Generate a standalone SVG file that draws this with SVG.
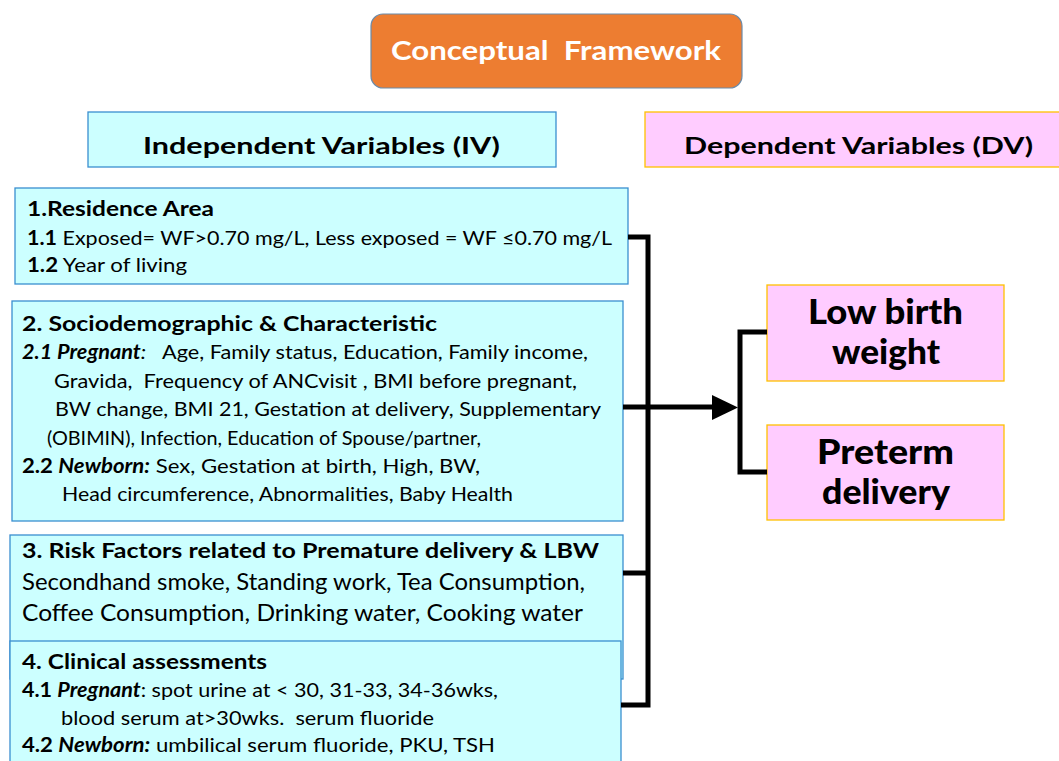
<svg xmlns="http://www.w3.org/2000/svg" width="1059" height="761" viewBox="0 0 1059 761">
  <defs>
    <style>
      .t { font-family: Lato, "Open Sans", "Liberation Sans", sans-serif; fill: #000; white-space: pre; }
      .b { font-weight: bold; }
      .i { font-style: italic; }
      .body { font-size: 20px; }
      .big { font-size: 23px; }
      .out { font-size: 34px; font-weight: 900; }
      .iv { fill: #CCFFFF; stroke: #3A8FD0; stroke-width: 1.3; }
      .dv { fill: #FFCCFF; stroke: #FFC000; stroke-width: 1.3; }
      .wire { fill: none; stroke: #000; stroke-width: 5; stroke-linejoin: miter; }
    </style>
  </defs>

  <rect width="1059" height="761" fill="#fff"/>

  <!-- Title -->
  <g id="title">
    <rect x="371" y="14" width="371" height="74" rx="12" fill="#ED7D31" stroke="#6A8BAA" stroke-width="1.2"/>
    <text class="t b" x="391" y="60" font-size="26" style="fill:#fff" textLength="330" lengthAdjust="spacingAndGlyphs">Conceptual  Framework</text>
  </g>

  <!-- Column headers -->
  <g id="iv-header">
    <rect class="iv" x="88" y="112" width="468" height="55"/>
    <text class="t b" x="143" y="154" font-size="22" textLength="357" lengthAdjust="spacingAndGlyphs">Independent Variables (IV)</text>
  </g>
  <g id="dv-header">
    <rect class="dv" x="645" y="112" width="420" height="55"/>
    <text class="t b" x="684" y="154" font-size="22" textLength="349" lengthAdjust="spacingAndGlyphs">Dependent Variables (DV)</text>
  </g>

  <!-- Independent variable groups -->
  <g id="iv-residence">
    <rect class="iv" x="15" y="188" width="613" height="96"/>
    <text class="t body b" x="27" y="216" textLength="187" lengthAdjust="spacingAndGlyphs">1.Residence Area</text>
    <text class="t body" x="27" y="245" textLength="585" lengthAdjust="spacingAndGlyphs"><tspan class="b">1.1</tspan> Exposed= WF&gt;0.70 mg/L, Less exposed = WF ≤0.70 mg/L</text>
    <text class="t body" x="27" y="272" textLength="160" lengthAdjust="spacingAndGlyphs"><tspan class="b">1.2</tspan> Year of living</text>
  </g>

  <g id="iv-sociodemographic">
    <rect class="iv" x="12" y="301" width="611" height="220"/>
    <text class="t body b" x="22" y="331" textLength="415" lengthAdjust="spacingAndGlyphs">2. Sociodemographic &amp; Characteristic</text>
    <text class="t body" x="22" y="359" textLength="566" lengthAdjust="spacingAndGlyphs"><tspan class="b i">2.1 Pregnant</tspan><tspan class="i">:</tspan>   Age, Family status, Education, Family income,</text>
    <text class="t body" x="54" y="388" textLength="523" lengthAdjust="spacingAndGlyphs">Gravida,  Frequency of ANCvisit , BMI before pregnant,</text>
    <text class="t body" x="55" y="416" textLength="546" lengthAdjust="spacingAndGlyphs">BW change, BMI 21, Gestation at delivery, Supplementary</text>
    <text class="t body" x="47" y="445" textLength="434" lengthAdjust="spacingAndGlyphs">(OBIMIN), Infection, Education of Spouse/partner,</text>
    <text class="t body" x="22" y="473" textLength="458" lengthAdjust="spacingAndGlyphs"><tspan class="b">2.2 </tspan><tspan class="b i">Newborn:</tspan> Sex, Gestation at birth, High, BW,</text>
    <text class="t body" x="62" y="501" textLength="451" lengthAdjust="spacingAndGlyphs">Head circumference, Abnormalities, Baby Health</text>
  </g>

  <g id="iv-risk-factors">
    <rect class="iv" x="10" y="535" width="613" height="144"/>
    <text class="t body b" x="22" y="558" textLength="577" lengthAdjust="spacingAndGlyphs">3. Risk Factors related to Premature delivery &amp; LBW</text>
    <text class="t big" x="22" y="590" textLength="563" lengthAdjust="spacingAndGlyphs">Secondhand smoke, Standing work, Tea Consumption,</text>
    <text class="t big" x="22" y="621" textLength="561" lengthAdjust="spacingAndGlyphs">Coffee Consumption, Drinking water, Cooking water</text>
  </g>

  <g id="iv-clinical">
    <rect class="iv" x="10" y="641" width="611" height="130"/>
    <text class="t body b" x="22" y="669" textLength="245" lengthAdjust="spacingAndGlyphs">4. Clinical assessments</text>
    <text class="t body" x="22" y="697" textLength="476" lengthAdjust="spacingAndGlyphs"><tspan class="b">4.1 </tspan><tspan class="b i">Pregnant</tspan>: spot urine at &lt; 30, 31-33, 34-36wks,</text>
    <text class="t body" x="61" y="725" textLength="373" lengthAdjust="spacingAndGlyphs">blood serum at&gt;30wks.  serum fluoride</text>
    <text class="t body" x="22" y="752" textLength="473" lengthAdjust="spacingAndGlyphs"><tspan class="b">4.2 </tspan><tspan class="b i">Newborn:</tspan> umbilical serum fluoride, PKU, TSH</text>
  </g>

  <!-- Dependent variable outcomes -->
  <g id="dv-lbw">
    <rect class="dv" x="767" y="285" width="237" height="96"/>
    <text class="t out" x="808" y="324" textLength="155" lengthAdjust="spacingAndGlyphs">Low birth</text>
    <text class="t out" x="832" y="364" textLength="108" lengthAdjust="spacingAndGlyphs">weight</text>
  </g>
  <g id="dv-preterm">
    <rect class="dv" x="767" y="425" width="237" height="95"/>
    <text class="t out" x="817" y="464" textLength="137" lengthAdjust="spacingAndGlyphs">Preterm</text>
    <text class="t out" x="822" y="504" textLength="128" lengthAdjust="spacingAndGlyphs">delivery</text>
  </g>

  <!-- Connectors -->
  <g id="connectors">
    <path class="wire" d="M628,237 H648 V705 H621"/>
    <path class="wire" d="M623,573 H648"/>
    <path class="wire" d="M767,332 H740 V472 H767"/>
    <path class="wire" d="M623,407 H714" stroke-width="7"/>
    <polygon points="712,395 738,407.5 712,420" fill="#000"/>
  </g>
</svg>
